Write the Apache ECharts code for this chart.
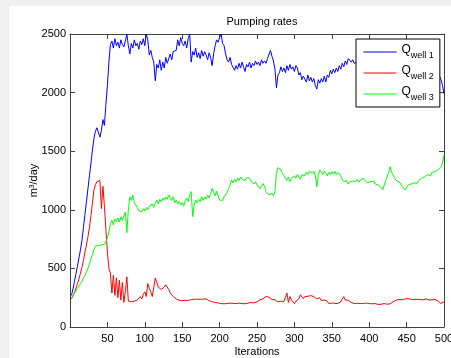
<!DOCTYPE html>
<html>
<head>
<meta charset="utf-8">
<script src="https://cdn.jsdelivr.net/npm/echarts@6/dist/echarts.min.js"></script>
<style>
html, body { margin: 0; padding: 0; background: #f0f0f0; overflow: hidden; }
#chart { position: absolute; left: 9px; top: 6px; width: 442px; height: 352px; background: #fff; }
</style>
</head>
<body>
<div id="chart"></div>
<script>
// pumping rates, one value every 2 iterations (2, 4, ... 500)
const STEP = 2
const well1 = [
  270, 325, 390, 455, 520, 590, 660, 740, 850, 960,
  1070, 1180, 1290, 1400, 1510, 1610, 1670, 1700, 1660, 1620,
  1680, 1770, 1720, 1900, 2060, 2260, 2410, 2440, 2380, 2460,
  2400, 2430, 2380, 2450, 2410, 2390, 2440, 2500, 2400, 2330,
  2420, 2380, 2450, 2400, 2420, 2370, 2440, 2410, 2460, 2400,
  2500, 2450, 2320, 2360, 2300, 2260, 2100, 2240, 2210, 2280,
  2190, 2260, 2210, 2300, 2250, 2260, 2330, 2280, 2350, 2340,
  2360, 2450, 2400, 2470, 2420, 2400, 2440, 2380, 2460, 2500,
  2260, 2350, 2320, 2380, 2300, 2340, 2290, 2360, 2310, 2350,
  2320, 2280, 2340, 2300, 2230, 2330, 2400, 2450, 2430, 2470,
  2500, 2420, 2400, 2330, 2280, 2260, 2300, 2240, 2250, 2190,
  2230, 2200, 2250, 2210, 2260, 2220, 2180, 2240, 2220, 2260,
  2210, 2250, 2230, 2270, 2240, 2260, 2230, 2280, 2250, 2270,
  2250, 2290, 2300, 2360, 2310, 2270, 2200, 2040, 2150, 2170,
  2220, 2180, 2210, 2170, 2230, 2190, 2240, 2200, 2220, 2180,
  2230, 2210, 2150, 2170, 2110, 2140, 2130, 2090, 2150, 2100,
  2130, 2090, 2120, 2060, 2030, 2110, 2080, 2120, 2090, 2140,
  2090, 2150, 2130, 2190, 2160, 2200, 2170, 2210, 2180, 2230,
  2200, 2250, 2220, 2270, 2240, 2290, 2300, 2260, 2280, 2250,
  2240, 2260, 2230, 2280, 2250, 2230, 2270, 2240, 2260, 2220,
  2250, 2230, 2270, 2240, 2220, 2260, 2230, 2250, 2210, 2240,
  2230, 2260, 2220, 2250, 2240, 2210, 2250, 2230, 2200, 2240,
  2220, 2250, 2210, 2230, 2200, 2240, 2220, 2190, 2230, 2210,
  2240, 2200, 2220, 2190, 2230, 2210, 2180, 2220, 2200, 2190,
  2210, 2180, 2200, 2170, 2190, 2160, 2140, 2110, 2060, 1990
]
const well2 = [
  240, 265, 295, 330, 370, 410, 460, 510, 570, 640,
  700, 770, 850, 950, 1060, 1170, 1215, 1240, 1255, 1250,
  1010, 1200, 1030, 830, 640, 500, 460, 290, 440, 270,
  420, 250, 400, 230, 380, 210, 300, 427, 220, 210,
  215, 205, 220, 210, 230, 225, 260, 240, 280, 300,
  260, 370, 330, 300, 260, 340, 418, 380, 340, 350,
  320, 305, 340, 360, 375, 320, 290, 280, 260, 250,
  240, 230, 228, 225, 225, 230, 228, 232, 226, 230,
  234, 230, 236, 240, 238, 242, 236, 240, 238, 242,
  240, 236, 225, 210, 215, 205, 210, 200, 205, 210,
  200, 205, 198, 206, 200, 196, 204, 198, 202, 206,
  200, 196, 204, 208, 200, 205, 198, 210, 204, 214,
  208, 215, 206, 220, 214, 225, 232, 218, 240, 250,
  260, 246, 255, 240, 235, 228, 232, 220, 215, 210,
  220, 212, 218, 215, 290, 210, 260, 230, 245, 200,
  220, 205, 240, 275, 260, 240, 260, 275, 262, 270,
  268, 275, 258, 262, 240, 235, 250, 225, 215, 230,
  245, 220, 200, 215, 205, 200, 202, 198, 200, 206,
  215, 240, 260, 230, 215, 228, 225, 210, 205, 200,
  198, 202, 196, 200, 194, 200, 198, 204, 196, 200,
  210, 198, 195, 200, 196, 192, 198, 194, 196, 200,
  196, 194, 200, 198, 195, 215, 225, 230, 228, 234,
  236, 232, 238, 240, 235, 242, 238, 236, 240, 234,
  238, 236, 240, 234, 238, 232, 236, 240, 234, 230,
  236, 232, 228, 234, 226, 222, 205, 200, 208, 215
]
const well3 = [
  250, 270, 290, 310, 330, 350, 370, 390, 420, 440,
  470, 500, 540, 580, 620, 660, 690, 700, 695, 690,
  700, 715, 705, 730, 760, 810, 880, 910, 870, 920,
  900, 930, 895, 940, 910, 950, 980, 805, 1000, 1110,
  1080, 1126, 1060, 1040, 1020, 990, 1000, 984, 1010, 990,
  1020, 1000, 1030, 1026, 1050, 1020, 1060, 1083, 1050, 1090,
  1070, 1100, 1080, 1110, 1090, 1126, 1100, 1080, 1110, 1060,
  1083, 1050, 1070, 1041, 1060, 1030, 1080, 1100, 1070, 1130,
  1155, 941, 1040, 1083, 1060, 1090, 1070, 1112, 1080, 1110,
  1090, 1126, 1100, 1140, 1183, 1150, 1120, 1160, 1120, 1083,
  1100, 1080, 1110, 1126, 1150, 1183, 1210, 1254, 1230, 1260,
  1240, 1270, 1250, 1280, 1260, 1270, 1250, 1275, 1260, 1270,
  1240, 1250, 1220, 1240, 1212, 1200, 1180, 1197, 1225, 1200,
  1155, 1140, 1126, 1110, 1140, 1120, 1155, 1311, 1360, 1368,
  1340, 1311, 1290, 1270, 1250, 1280, 1240, 1265, 1254, 1290,
  1270, 1300, 1283, 1260, 1300, 1311, 1290, 1320, 1300, 1330,
  1340, 1310, 1330, 1290, 1197, 1300, 1340, 1320, 1300, 1330,
  1311, 1290, 1320, 1300, 1325, 1305, 1330, 1300, 1320, 1311,
  1290, 1260, 1240, 1225, 1250, 1220, 1240, 1225, 1245, 1230,
  1240, 1260, 1235, 1254, 1240, 1270, 1250, 1254, 1230, 1245,
  1240, 1225, 1245, 1220, 1230, 1212, 1200, 1190, 1169, 1180,
  1250, 1283, 1320, 1368, 1320, 1297, 1270, 1250, 1260, 1240,
  1225, 1200, 1190, 1169, 1180, 1212, 1200, 1220, 1212, 1230,
  1240, 1225, 1250, 1240, 1270, 1255, 1280, 1270, 1300, 1311,
  1290, 1320, 1305, 1325, 1310, 1340, 1330, 1368, 1400, 1468
]
const seriesNames = ['well 1', 'well 2', 'well 3']
const seriesColors = ['#0000ff', '#ff0000', '#00ff00']

const FONT = 'Liberation Sans, Arial, sans-serif'
const AXIS_COLOR = '#404040'

function pairs (values) {
  return values.map((v, i) => [(i + 1) * STEP, v])
}

const chart = echarts.init(document.getElementById('chart'))

const xBase = {
  type: 'value',
  min: 0,
  max: 500,
  interval: 50,
  splitLine: { show: false },
  axisLine: { onZero: false, lineStyle: { color: AXIS_COLOR, width: 1 } },
  axisTick: { inside: true, length: 5, lineStyle: { color: AXIS_COLOR } }
}
const yBase = {
  type: 'value',
  min: 0,
  max: 2500,
  interval: 500,
  splitLine: { show: false },
  axisLine: { show: true, onZero: false, lineStyle: { color: AXIS_COLOR, width: 1 } },
  axisTick: { show: true, inside: true, length: 5, lineStyle: { color: AXIS_COLOR } }
}

chart.setOption({
  animation: false,
  textStyle: { fontFamily: FONT },
  title: {
    text: 'Pumping rates',
    left: 248,
    top: 5,
    textAlign: 'center',
    textStyle: { fontSize: 11, fontWeight: 'normal', color: '#000', fontFamily: FONT }
  },
  grid: { left: 61, right: 7, top: 28, bottom: 31, containLabel: false, outerBoundsMode: 'none' },
  legend: {
    orient: 'vertical',
    left: 347,
    top: 33,
    width: 84,
    padding: [5, 6, 5, 7],
    itemWidth: 33,
    itemHeight: 14,
    itemGap: 5,
    backgroundColor: '#fff',
    borderColor: '#000',
    borderWidth: 1,
    borderRadius: 0,
    itemStyle: { opacity: 0 },
    lineStyle: { width: 1 },
    data: seriesNames,
    formatter: name => '{q|Q}{s|' + name + '}',
    textStyle: {
      color: '#000',
      fontFamily: FONT,
      rich: {
        q: { fontSize: 12, color: '#000', fontFamily: FONT, verticalAlign: 'top' },
        s: { fontSize: 9, color: '#000', fontFamily: FONT, verticalAlign: 'bottom', padding: [7, 0, 0, 0] }
      }
    }
  },
  xAxis: [
    Object.assign({}, xBase, {
      position: 'bottom',
      name: 'Iterations',
      nameLocation: 'middle',
      nameGap: 19,
      nameMoveOverlap: false,
      nameTextStyle: { fontSize: 11, color: '#000', fontFamily: FONT },
      axisLabel: {
        fontSize: 11,
        color: '#000',
        margin: 6,
        formatter: v => (v === 0 ? '' : String(v))
      }
    }),
    Object.assign({}, xBase, { position: 'top', axisLabel: { show: false } })
  ],
  yAxis: [
    Object.assign({}, yBase, {
      position: 'left',
      name: 'm³/day',
      nameLocation: 'middle',
      nameGap: 31,
      nameRotate: 90,
      nameMoveOverlap: false,
      nameTextStyle: { fontSize: 11, color: '#000', fontFamily: FONT },
      axisLabel: { fontSize: 11, color: '#000', margin: 4, formatter: v => String(v) }
    }),
    Object.assign({}, yBase, { position: 'right', axisLabel: { show: false } })
  ],
  series: [well1, well2, well3].map((vals, k) => ({
    name: seriesNames[k],
    type: 'line',
    xAxisIndex: 0,
    yAxisIndex: 0,
    data: pairs(vals),
    symbol: 'none',
    showSymbol: false,
    sampling: null,
    lineStyle: { color: seriesColors[k], width: 1 },
    itemStyle: { color: seriesColors[k] }
  }))
})
</script>
</body>
</html>
